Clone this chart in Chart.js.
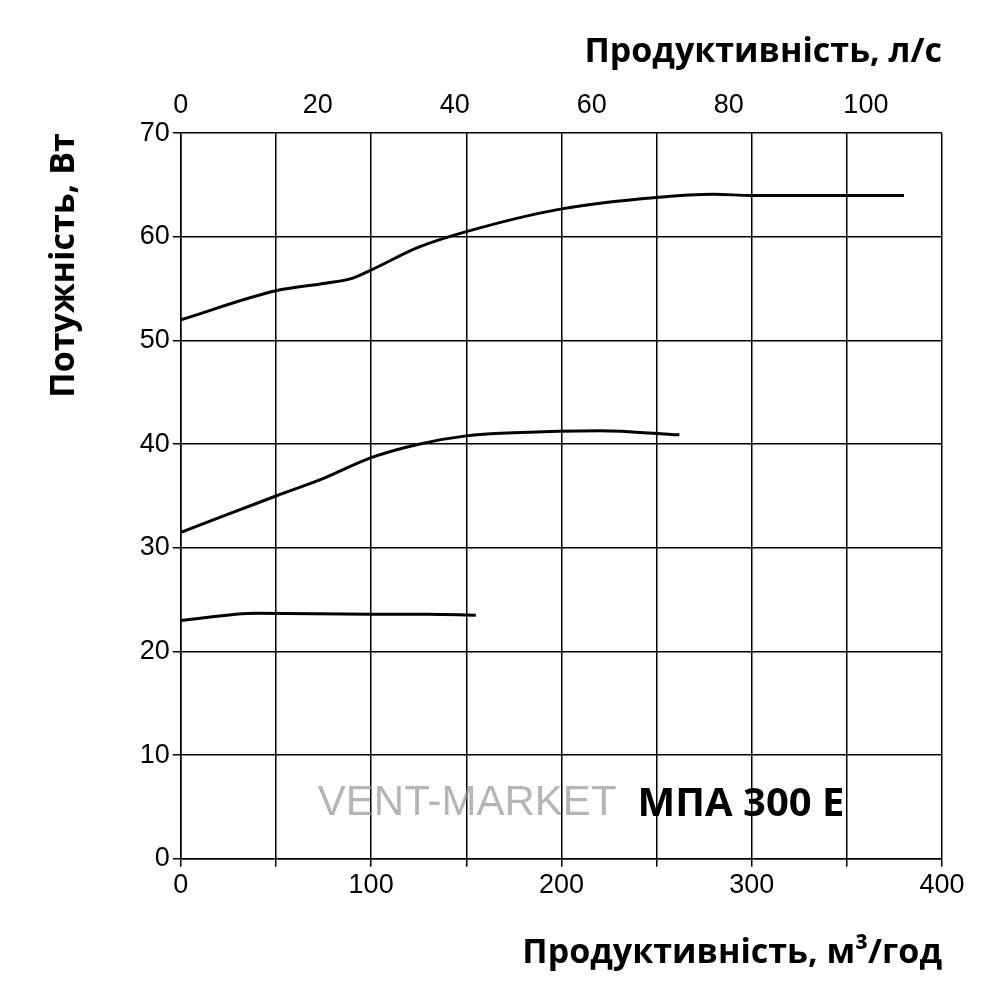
<!DOCTYPE html>
<html><head><meta charset="utf-8">
<script src="https://cdn.jsdelivr.net/npm/chart.js@4"></script>
<style>body{margin:0;background:#fff}#wrap{width:1000px;height:1000px}</style>
</head><body><div id="wrap"><canvas id="c"></canvas></div>
<script>
// значення (м³/год, Вт)
const topX = [0, 50, 75, 90, 100, 125, 150, 200, 250, 280, 300, 380];
const topY = [52, 54.8, 55.5, 56, 56.8, 59, 60.5, 62.7, 63.8, 64.1, 64, 64];
const midX = [0, 50, 75, 100, 125, 150, 175, 220, 262];
const midY = [31.5, 35, 36.7, 38.7, 40, 40.8, 41.1, 41.3, 40.9];
const lowX = [0, 40, 100, 130, 155];
const lowY = [23, 23.7, 23.6, 23.6, 23.5];
const topTicks = [0, 20, 40, 60, 80, 100]; // л/с

const pts = (xs, ys) => xs.map((x, i) => ({ x: x, y: ys[i] }));
const line = d => ({ data: d, borderColor: "#000", borderWidth: 3, pointRadius: 0, showLine: true, tension: 0.4, cubicInterpolationMode: "monotone" });

const labels = {
    id: "labels",
    afterDatasetsDraw(chart) {
        const c = chart.ctx, x = chart.scales.x, y = chart.scales.y;
        c.save();
        c.textBaseline = "middle";
        c.font = "bold 40px 'Open Sans'";
        c.fillStyle = "#000";
        c.fillText("МПА 300 Е", x.getPixelForValue(240), y.getPixelForValue(5.2));
        c.font = "42px 'Liberation Sans'";
        c.fillStyle = "rgba(150,150,150,0.7)";
        c.fillText("VENT-MARKET", x.getPixelForValue(72), y.getPixelForValue(5.3));
        c.restore();
    }
};

const tickFont = { family: "Liberation Sans", size: 27 };
const titleFont = { family: "Open Sans", size: 34, weight: "bold" };

new Chart(document.getElementById("c"), {
    type: "scatter",
    data: { datasets: [line(pts(topX, topY)), line(pts(midX, midY)), line(pts(lowX, lowY))] },
    options: {
        responsive: true, maintainAspectRatio: false, animation: false,
        layout: { padding: { left: 40, right: 58, top: 28, bottom: 22 } },
        plugins: { legend: { display: false }, tooltip: { enabled: false } },
        scales: {
            x: {
                type: "linear", min: 0, max: 400,
                ticks: { stepSize: 50, color: "#000", font: tickFont, callback: v => v % 100 === 0 ? v : "" },
                grid: { color: "#000", lineWidth: 1.5, tickLength: 8 },
                border: { color: "#000", width: 1.5 },
                title: { display: true, text: "Продуктивність, м³/год", color: "#000", font: titleFont, align: "end", padding: { top: 28 } }
            },
            x2: {
                type: "linear", position: "top", min: 0, max: 400 / 3.6,
                afterBuildTicks: s => { s.ticks = topTicks.map(v => ({ value: v })); },
                ticks: { color: "#000", font: tickFont },
                grid: { display: false },
                border: { display: false },
                title: { display: true, text: "Продуктивність, л/с", color: "#000", font: titleFont, align: "end", padding: { bottom: 14 } }
            },
            y: {
                min: 0, max: 70,
                ticks: { stepSize: 10, color: "#000", font: tickFont },
                grid: { color: "#000", lineWidth: 1.5, tickLength: 8 },
                border: { color: "#000", width: 1.5 },
                title: { display: true, text: "Потужність, Вт", color: "#000", font: titleFont, align: "end", padding: { bottom: 52 } }
            }
        }
    },
    plugins: [labels]
});
</script></body></html>
